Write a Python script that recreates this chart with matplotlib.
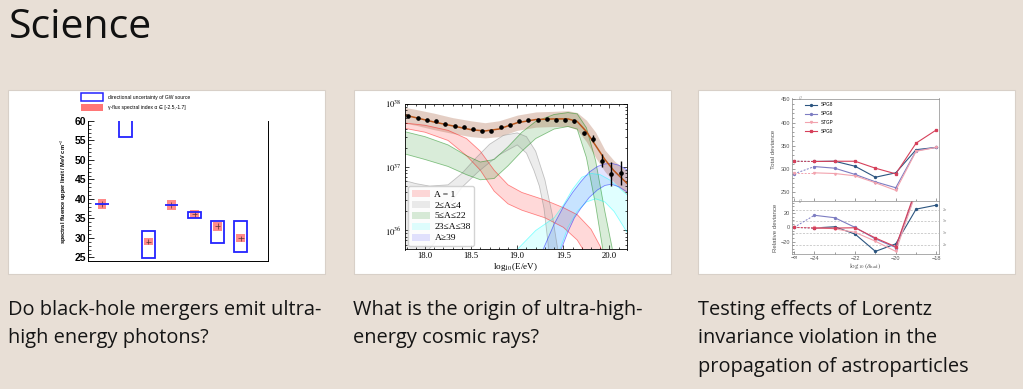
import matplotlib
matplotlib.use("Agg")
import matplotlib.pyplot as plt
from matplotlib.patches import Rectangle, Patch
from matplotlib.ticker import MultipleLocator, FixedLocator, LogLocator, NullFormatter, FuncFormatter
import numpy as np

plt.rcParams["font.family"] = ["Open Sans", "DejaVu Sans"]
plt.rcParams["mathtext.fontset"] = "stix"

# ---------------------------------------------------------
# Slide text
# ---------------------------------------------------------
title = "Science"
captions = [
    ["Do black-hole mergers emit ultra-", "high energy photons?"],
    ["What is the origin of ultra-high-", "energy cosmic rays?"],
    ["Testing effects of Lorentz", "invariance violation in the", "propagation of astroparticles"],
]

# ---------------------------------------------------------
# Panel 1: photon fluence limits for GW events
# ---------------------------------------------------------
gw_event = [1, 2, 3, 4, 5, 6, 7]
gw_box_lo = [38.6, 56.0, 24.8, 38.35, 35.1, 28.7, 26.4]
gw_box_hi = [38.8, 61.5, 31.85, 38.55, 36.75, 34.4, 34.4]
gw_flux = [38.7, np.nan, 29.1, 38.5, 36.2, 33.0, 29.9]
gw_flux_err = [1.2, np.nan, 1.0, 1.2, 1.1, 1.1, 1.0]
gw_legend = ["directional uncertainty of GW source",
             "\u03b3-flux spectral index \u03b1 \u2208 [-2.5,-1.7]"]

# ---------------------------------------------------------
# Panel 2: UHECR spectrum and mass groups (log10 of E^3 J)
# ---------------------------------------------------------
spec_x = [17.82, 17.92, 18.02, 18.12, 18.22, 18.32, 18.42, 18.52, 18.62, 18.72,
          18.82, 18.92, 19.02, 19.12, 19.22, 19.32, 19.42, 19.52, 19.62, 19.72,
          19.82, 19.92, 20.02, 20.12]
spec_y = [37.81, 37.78, 37.75, 37.72, 37.68, 37.65, 37.63, 37.60, 37.57, 37.57,
          37.63, 37.67, 37.72, 37.75, 37.75, 37.76, 37.74, 37.74, 37.72, 37.53,
          37.45, 37.10, 36.89, 36.91]
spec_err = [0.01, 0.01, 0.01, 0.01, 0.01, 0.01, 0.01, 0.01, 0.01, 0.01,
            0.01, 0.01, 0.01, 0.01, 0.01, 0.015, 0.015, 0.02, 0.02, 0.03,
            0.05, 0.10, 0.19, 0.19]

tot_x = [17.75, 17.9, 18.1, 18.3, 18.5, 18.65, 18.8, 19.0, 19.2, 19.4, 19.55,
         19.65, 19.75, 19.85, 19.95, 20.05, 20.2]
tot_mid = [37.83, 37.78, 37.71, 37.65, 37.59, 37.57, 37.60, 37.70, 37.75, 37.76,
           37.76, 37.72, 37.56, 37.34, 37.12, 36.94, 36.73]
tot_hi = [37.95, 37.91, 37.85, 37.78, 37.73, 37.70, 37.73, 37.82, 37.87, 37.88,
          37.89, 37.86, 37.74, 37.55, 37.27, 37.10, 36.92]
tot_lo = [37.70, 37.66, 37.59, 37.53, 37.48, 37.46, 37.48, 37.58, 37.63, 37.64,
          37.64, 37.59, 37.40, 37.15, 36.93, 36.76, 36.55]

p_x = [17.75, 18.0, 18.25, 18.45, 18.6, 18.75, 18.9, 19.05, 19.3, 19.5, 19.65,
       19.8, 19.9, 19.95]
p_hi = [37.70, 37.66, 37.58, 37.45, 37.25, 36.95, 36.72, 36.60, 36.48, 36.36,
        36.25, 36.02, 35.75, 35.55]
p_lo = [37.62, 37.55, 37.42, 37.18, 36.95, 36.62, 36.42, 36.32, 36.20, 36.05,
        35.85, 35.50, 35.30, 35.20]

he_hi_x = [17.75, 17.9, 18.05, 18.25, 18.4, 18.55, 18.7, 18.85, 19.0, 19.1,
           19.2, 19.3, 19.38, 19.45]
he_hi = [36.80, 36.74, 36.70, 36.72, 36.90, 37.14, 37.36, 37.50, 37.54, 37.48,
         37.25, 36.80, 36.25, 35.60]
he_lo_x = [17.75, 18.1, 18.25, 18.4, 18.58, 18.8, 19.0, 19.1, 19.18, 19.24,
           19.29, 19.35]
he_lo = [35.20, 35.80, 36.38, 36.68, 36.93, 37.19, 37.35, 37.22, 36.95, 36.70,
         36.35, 35.60]

cno_x = [17.75, 18.0, 18.25, 18.45, 18.6, 18.75, 18.9, 19.05, 19.2, 19.4, 19.55,
         19.65, 19.75, 19.85, 19.95, 20.06]
cno_hi = [37.57, 37.48, 37.35, 37.18, 37.08, 37.12, 37.32, 37.55, 37.72, 37.83,
          37.86, 37.84, 37.62, 37.10, 36.30, 35.50]
cno_lo = [37.22, 37.12, 37.01, 36.88, 36.80, 36.82, 37.02, 37.25, 37.45, 37.60,
          37.64, 37.60, 37.15, 36.40, 35.50, 35.00]

si_hi_x = [19.0, 19.2, 19.4, 19.5, 19.6, 19.7, 19.8, 19.9, 20.0, 20.1, 20.2]
si_hi = [35.70, 36.00, 36.20, 36.40, 36.65, 36.84, 36.90, 36.88, 36.80, 36.68, 36.55]
si_lo_x = [19.45, 19.55, 19.65, 19.75, 19.85, 19.95, 20.05, 20.2]
si_lo = [35.65, 36.05, 36.30, 36.45, 36.50, 36.45, 36.30, 35.95]

fe_hi_x = [19.25, 19.4, 19.51, 19.6, 19.69, 19.78, 19.87, 19.95, 20.02, 20.1, 20.2]
fe_hi = [35.60, 36.10, 36.40, 36.60, 36.77, 36.92, 37.01, 37.05, 37.06, 37.03, 36.95]
fe_lo_x = [19.45, 19.55, 19.62, 19.69, 19.78, 19.87, 19.95, 20.02, 20.1, 20.2]
fe_lo = [35.60, 35.98, 36.20, 36.35, 36.52, 36.64, 36.71, 36.73, 36.69, 36.60]

mass_labels = ["A = 1", "2\u2264A\u22644", "5\u2264A\u226422", "23\u2264A\u226438", "A\u226539"]

# ---------------------------------------------------------
# Panel 3: LIV deviance scan
# ---------------------------------------------------------
liv_x = [-25, -24, -23, -22, -21, -20, -19, -18]
liv_ticklabels = ["\u2212\u221e", "\u221224", "\u221222", "\u221220", "\u221218"]
liv_names = ["SPG8", "SPG6", "STGP", "SPG0"]
spg8_tot = [316.5, 316.0, 316.5, 305.7, 282.0, 291.5, 341.5, 346.5]
spg6_tot = [289.3, 305.0, 301.5, 288.0, 272.0, 259.3, 339.3, 346.5]
stgp_tot = [291.5, 291.5, 290.0, 285.0, 270.0, 253.6, 338.0, 346.5]
spg0_tot = [316.5, 316.0, 316.5, 316.5, 301.5, 289.3, 355.7, 384.3]
spg8_rel = [0, -0.8, 0.9, -9.5, -34.0, -23.3, 25.9, 31.6]
spg6_rel = [0, 17.2, 13.7, 0.0, -16.3, -28.5, 52.0, 57.0]
stgp_rel = [0, 0.0, -2.0, -7.0, -19.6, -34.0, 50.0, 55.0]
spg0_rel = [0, -1.0, -1.0, -0.5, -15.0, -27.5, 55.0, 68.0]
ref_levels = [25, 9.5, -8, -25]
ref_labels = ["2\u03c3", "1\u03c3", "1\u03c3", "2\u03c3"]

# ---------------------------------------------------------
# Layout helpers (pixel boxes -> figure fractions)
# ---------------------------------------------------------
W, H = 1023, 389
BG = "#e8dfd6"
sans = ["Liberation Sans", "DejaVu Sans"]
serif = ["Liberation Serif", "DejaVu Serif"]


def frac(l, t, r, b):
    return [l / W, 1 - b / H, (r - l) / W, (b - t) / H]


fig = plt.figure(figsize=(W / 100, H / 100), dpi=100, facecolor=BG)

fig.text(9 / W, 1 - 38 / H, title, fontsize=29.5, color="#111111", va="baseline")

panels = [(8, 90, 325, 274), (354, 90, 671, 274), (698, 90, 1015, 274)]
cap_x = [8, 353, 698.5]
for (l, t, r, b), cx, lines in zip(panels, cap_x, captions):
    fig.add_artist(Rectangle((l / W, 1 - (b + 1) / H), (r - l + 1) / W, (b - t) / H,
                             transform=fig.transFigure, facecolor="#d4ccc3",
                             edgecolor="none", zorder=-2))
    fig.add_artist(Rectangle((l / W, 1 - b / H), (r - l) / W, (b - t) / H,
                             transform=fig.transFigure, facecolor="white",
                             edgecolor="#d8d0c8", lw=0.8, zorder=-1))
    for i, line in enumerate(lines):
        fig.text(cx / W, 1 - (315 + 28.3 * i) / H, line, fontsize=14.4,
                 color="#151515", va="baseline")

# ---------------------------------------------------------
# Panel 1
# ---------------------------------------------------------
ax1 = fig.add_axes(frac(88, 121, 268, 261))
blue = "#2323ff"
red = "#ff7676"
x = np.array(gw_event, dtype=float)
flux = np.array(gw_flux)
ferr = np.array(gw_flux_err)
ok = ~np.isnan(flux)
ax1.bar(x[ok], 2 * ferr[ok], bottom=flux[ok] - ferr[ok], width=0.37,
        color=red, alpha=0.85, zorder=2)
ax1.errorbar(x[ok], flux[ok], xerr=0.12, yerr=ferr[ok] * 0.7, fmt="none",
             ecolor="#553333", elinewidth=0.5, zorder=3)
ax1.bar(x, np.array(gw_box_hi) - np.array(gw_box_lo), bottom=gw_box_lo, width=0.58,
        fill=False, edgecolor=blue, linewidth=1.3, zorder=4)
ax1.set_xlim(0.39, 8.18)
ax1.set_ylim(24.1, 60)
ax1.spines["top"].set_visible(False)
for s in ["left", "bottom", "right"]:
    ax1.spines[s].set_linewidth(0.7)
ax1.set_xticks([])
ax1.yaxis.set_major_locator(MultipleLocator(5))
ax1.yaxis.set_minor_locator(MultipleLocator(1))
ax1.tick_params(axis="y", direction="in", length=4, width=0.6, pad=1.5,
                labelsize=7.5)
ax1.tick_params(axis="y", which="minor", direction="in", length=2, width=0.5)
for lab in ax1.get_yticklabels():
    lab.set_fontweight("bold")
    lab.set_family(sans)
ax1.set_ylabel("spectral fluence upper limit / MeV cm$^{-2}$", fontsize=4.1,
               fontweight="bold", family=sans, labelpad=4)

leg_ax = fig.add_axes(frac(80, 93, 300, 121))
leg_ax.axis("off")
h1 = Patch(facecolor="white", edgecolor=blue, linewidth=1.1)
h2 = Patch(facecolor=red, edgecolor="none")
leg_ax.legend([h1, h2], gw_legend, loc="upper left", frameon=False,
              prop={"family": sans, "size": 3.6},
              handlelength=4.4, handleheight=1.8, labelspacing=0.7,
              handletextpad=1.0, borderaxespad=0.0, borderpad=0.1)

# ---------------------------------------------------------
# Panel 2
# ---------------------------------------------------------
ax2 = fig.add_axes(frac(404.7, 103.7, 627, 249.5))


def band(ax, xh, yh, xl, yl, color, label=None, alpha=0.15):
    px = np.r_[xh, xl[::-1]]
    py = 10 ** np.r_[yh, yl[::-1]]
    ax.fill(px, py, color=color, alpha=alpha, lw=0, label=label)
    ax.plot(xh, 10 ** np.array(yh), color=color, alpha=0.45, lw=0.6)
    ax.plot(xl, 10 ** np.array(yl), color=color, alpha=0.45, lw=0.6)


band(ax2, p_x, p_hi, p_x, p_lo, "red", mass_labels[0])
band(ax2, he_hi_x, he_hi, he_lo_x, he_lo, "gray", mass_labels[1])
band(ax2, cno_x, cno_hi, cno_x, cno_lo, "green", mass_labels[2])
band(ax2, si_hi_x, si_hi, si_lo_x, si_lo, "cyan", mass_labels[3], alpha=0.12)
band(ax2, fe_hi_x, fe_hi, fe_lo_x, fe_lo, "blue", mass_labels[4], alpha=0.11)

ax2.fill_between(tot_x, 10 ** np.array(tot_lo), 10 ** np.array(tot_hi),
                 color="#a0522d", alpha=0.28, lw=0)
ax2.plot(tot_x, 10 ** np.array(tot_mid), color="#b8561c", lw=1.1)

sy = np.array(spec_y)
se = np.array(spec_err)
yv = 10 ** sy
ax2.errorbar(spec_x, yv, yerr=[yv - 10 ** (sy - se), 10 ** (sy + se) - yv],
             fmt="o", color="black", ms=2.3, elinewidth=1.0, capsize=0, zorder=5)

ax2.set_yscale("log")
ax2.set_xlim(17.78, 20.19)
ax2.set_ylim(10 ** 35.7, 1e38)
ax2.xaxis.set_major_locator(MultipleLocator(0.5))
ax2.xaxis.set_minor_locator(MultipleLocator(0.1))
ax2.yaxis.set_major_locator(FixedLocator([1e36, 1e37, 1e38]))
ax2.yaxis.set_minor_locator(LogLocator(base=10, subs=np.arange(2, 10)))
ax2.yaxis.set_minor_formatter(NullFormatter())
ax2.yaxis.set_major_formatter(FuncFormatter(lambda v, p: r"$10^{%d}$" % round(np.log10(v))))
ax2.xaxis.set_major_formatter(FuncFormatter(lambda v, p: "%.1f" % v))
ax2.tick_params(which="both", direction="in", top=True, right=True, width=0.5,
                labelsize=6.2, pad=2)
ax2.tick_params(which="major", length=3)
ax2.tick_params(which="minor", length=1.5)
for lab in ax2.get_xticklabels():
    lab.set_family(serif)
for s in ax2.spines.values():
    s.set_linewidth(0.6)
ax2.set_xlabel(r"log$_{10}$(E/eV)", fontsize=6.6, family=serif, labelpad=0.5)
ax2.legend(loc="lower left", prop={"family": serif, "size": 6.8}, framealpha=0.85,
           edgecolor="#cccccc", fancybox=True, borderpad=0.35, labelspacing=0.22,
           handlelength=1.9, handleheight=0.8, handletextpad=0.5, borderaxespad=0.4)

# ---------------------------------------------------------
# Panel 3
# ---------------------------------------------------------
ax3u = fig.add_axes(frac(792, 98.5, 938.5, 201.3))
ax3l = fig.add_axes(frac(792, 201.3, 938.5, 253.5), sharex=ax3u)
liv_colors = ["#2c5580", "#7d7dc2", "#f2a3ae", "#d6405a"]
liv_markers = ["o", "o", "v", "s"]
tots = [spg8_tot, spg6_tot, stgp_tot, spg0_tot]
rels = [spg8_rel, spg6_rel, stgp_rel, spg0_rel]
for ax, series in [(ax3u, tots), (ax3l, rels)]:
    for name, ys, c, m in zip(liv_names, series, liv_colors, liv_markers):
        ax.plot(liv_x[:2], ys[:2], color=c, lw=0.7, ls=(0, (2, 1.5)))
        ax.plot(liv_x[1:], ys[1:], color=c, lw=0.8, marker=m, ms=1.4,
                label=name if ax is ax3u else None)
        ax.plot(liv_x[:1], ys[:1], color=c, marker=m, ms=1.4)

for lvl in ref_levels:
    ax3l.axhline(lvl, color="#bbbbbb", lw=0.5, ls=(0, (3, 2)), zorder=0)
for lvl, lab in zip(ref_levels, ref_labels):
    ax3l.text(1.03, lvl, lab, transform=ax3l.get_yaxis_transform(), fontsize=2.6,
              color="#888888", va="center", family=sans)

ax3u.set_xlim(-25.1, -17.9)
ax3u.set_ylim(230, 452)
ax3l.set_ylim(-37, 37)
ax3u.yaxis.set_major_locator(MultipleLocator(50))
ax3u.yaxis.set_minor_locator(MultipleLocator(10))
ax3l.yaxis.set_major_locator(MultipleLocator(20))
ax3l.yaxis.set_minor_locator(MultipleLocator(5))
ax3l.xaxis.set_major_locator(FixedLocator([-25, -24, -22, -20, -18]))
ax3l.xaxis.set_minor_locator(FixedLocator([-23, -21, -19]))
ax3l.set_xticklabels(liv_ticklabels)
ax3u.tick_params(labelbottom=False)
for ax in (ax3u, ax3l):
    ax.tick_params(which="both", direction="in", width=0.4, colors="#555555",
                   labelsize=4.1, pad=1.5)
    ax.tick_params(which="major", length=2.2)
    ax.tick_params(which="minor", length=1.2)
    for lab in ax.get_xticklabels() + ax.get_yticklabels():
        lab.set_family(sans)
    for s in ax.spines.values():
        s.set_linewidth(0.5)
        s.set_color("#8a8a8a")
    ax.text(0.06, 1.0, "//", transform=ax.transAxes, fontsize=3.5, color="#888888",
            ha="center", va="center", family=sans)
ax3u.set_ylabel("Total deviance", fontsize=4.4, color="#555555",
                family=sans, labelpad=3)
ax3l.set_ylabel("Relative deviance", fontsize=4.4, color="#555555",
                family=sans, labelpad=2)
ax3l.set_xlabel(r"$\log_{10}(\delta_{\rm had})$", fontsize=5, color="#555555",
                labelpad=1)
ax3u.legend(loc="upper left", bbox_to_anchor=(0.07, 0.99), frameon=False,
            prop={"family": sans, "size": 3.3}, handlelength=2.6,
            labelspacing=0.85, handletextpad=0.8, borderaxespad=0.2)

fig.savefig("out.png", dpi=100, facecolor=BG)
